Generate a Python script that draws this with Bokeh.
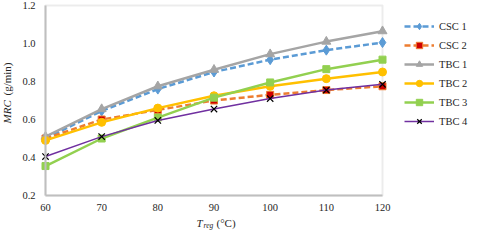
import math
from bokeh.plotting import figure
from bokeh.models import (Label, Legend, LegendItem, FixedTicker, NumeralTickFormatter,
                          Range1d, LinearAxis, BoxAnnotation)
from bokeh.embed import file_html
from bokeh.resources import INLINE

# ---- data ----
treg = [60, 70, 80, 90, 100, 110, 120]
csc1 = [0.50, 0.645, 0.76, 0.85, 0.915, 0.965, 1.005]
csc2 = [0.50, 0.60, 0.65, 0.70, 0.73, 0.755, 0.775]
tbc1 = [0.51, 0.655, 0.775, 0.862, 0.944, 1.01, 1.065]
tbc2 = [0.49, 0.585, 0.66, 0.725, 0.775, 0.815, 0.85]
tbc3 = [0.355, 0.50, 0.61, 0.715, 0.795, 0.865, 0.915]
tbc4 = [0.405, 0.51, 0.595, 0.655, 0.71, 0.755, 0.785]
series_names = ["CSC 1", "CSC 2", "TBC 1", "TBC 2", "TBC 3", "TBC 4"]
x_ticks = [60, 70, 80, 90, 100, 110, 120]
y_ticks = [0.2, 0.4, 0.6, 0.8, 1.0, 1.2]

FONT = "Liberation Serif"
TXT = "#262626"
GRID = "#BFBFBF"

# ---- layout (canvas pixels) ----
W, H = 472, 232
PL, PR, PT, PB = 45, 382, 5, 195          # plot-area box inside canvas
x0, x1 = x_ticks[0], x_ticks[-1]
y0, y1 = y_ticks[0], y_ticks[-1]
kx = (PR - PL) / (x1 - x0)
ky = (PB - PT) / (y1 - y0)
xr = Range1d(x0 - PL / kx, x1 + (W - PR) / kx)
yr = Range1d(y0 - (H - PB) / ky, y1 + PT / ky)

def dx(cx):
    return xr.start + cx / kx

def dy(cy):
    return yr.end - cy / ky

p = figure(width=W, height=H, output_backend="svg", toolbar_location=None,
           x_range=xr, y_range=yr, x_axis_location=None, y_axis_location=None,
           min_border=0)
p.background_fill_color = "white"
p.border_fill_color = "white"
p.outline_line_color = None
p.xgrid.grid_line_color = None
p.ygrid.grid_line_color = None

xaxis = LinearAxis(fixed_location=y0, bounds=(x0, x1), ticker=FixedTicker(ticks=x_ticks))
yaxis = LinearAxis(fixed_location=x0, bounds=(y0, y1), ticker=FixedTicker(ticks=y_ticks),
                   formatter=NumeralTickFormatter(format="0.0"))
for ax in (xaxis, yaxis):
    ax.axis_line_color = GRID
    ax.axis_line_width = 2
    ax.major_tick_line_color = None
    ax.minor_tick_line_color = None
    ax.major_tick_out = 0
    ax.major_tick_in = 0
    ax.major_label_text_font = FONT
    ax.major_label_text_font_size = "10.5px"
    ax.major_label_text_color = TXT
xaxis.major_label_standoff = 8
yaxis.major_label_standoff = 10
p.add_layout(xaxis, "below")
p.add_layout(yaxis, "left")

p.add_layout(BoxAnnotation(left=x0, right=x1, bottom=y0, top=y1, fill_alpha=0,
                           line_color=GRID, line_width=2, level="underlay"))

specs = [
    (csc1, "#5B9BD5", "6 3", 2.5, "diamond", 10, "#5B9BD5", "#5B9BD5"),
    (csc2, "#ED7D31", "6 3", 2.5, "square", 7, "#D00000", "#ED7D31"),
    (tbc1, "#A5A5A5", "solid", 2.5, "triangle", 9, "#A5A5A5", "#A5A5A5"),
    (tbc2, "#FFC000", "solid", 2.5, "circle", 8, "#FFC000", "#FFC000"),
    (tbc3, "#92D050", "solid", 2.5, "square", 7, "#92D050", "#92D050"),
    (tbc4, "#7030A0", "solid", 1.5, "x", 9, None, "#000000"),
]

items = []
for (ys, col, dash, lw, mk, ms, fc, lc), name in zip(specs, series_names):
    r1 = p.line(treg, ys, line_color=col, line_width=lw, line_dash=dash)
    if mk == "x":
        r2 = p.scatter(treg, ys, marker="x", size=ms, line_color=lc, line_width=1.2)
    else:
        r2 = p.scatter(treg, ys, marker=mk, size=ms, fill_color=fc, line_color=lc, line_width=1)
    items.append(LegendItem(label=name, renderers=[r1, r2]))

legend = Legend(items=items, location=(404, 103), margin=0, padding=0,
                border_line_color=None, background_fill_alpha=0,
                glyph_width=30, glyph_height=16, label_height=16, spacing=3,
                label_standoff=5, label_text_font=FONT, label_text_font_size="10.5px",
                label_text_color=TXT, label_text_baseline="middle")
p.add_layout(legend, "center")

# axis titles
lab = dict(text_font=FONT, text_font_size="11px", text_color=TXT,
           text_align="left", text_baseline="middle")
p.add_layout(Label(x=dx(6), y=dy(123), text="MRC", angle=math.pi / 2,
                   text_font_style="italic", **lab))
p.add_layout(Label(x=dx(6), y=dy(95), text="(g/min)", angle=math.pi / 2, **lab))
p.add_layout(Label(x=dx(196), y=dy(222), text="T", text_font_style="italic", **lab))
p.add_layout(Label(x=dx(203), y=dy(225), text="reg", text_font_style="italic",
                   **{**lab, "text_font_size": "7.5px"}))
p.add_layout(Label(x=dx(216), y=dy(222), text="(°C)", **lab))

open("out.html", "w").write(file_html(p, INLINE))
